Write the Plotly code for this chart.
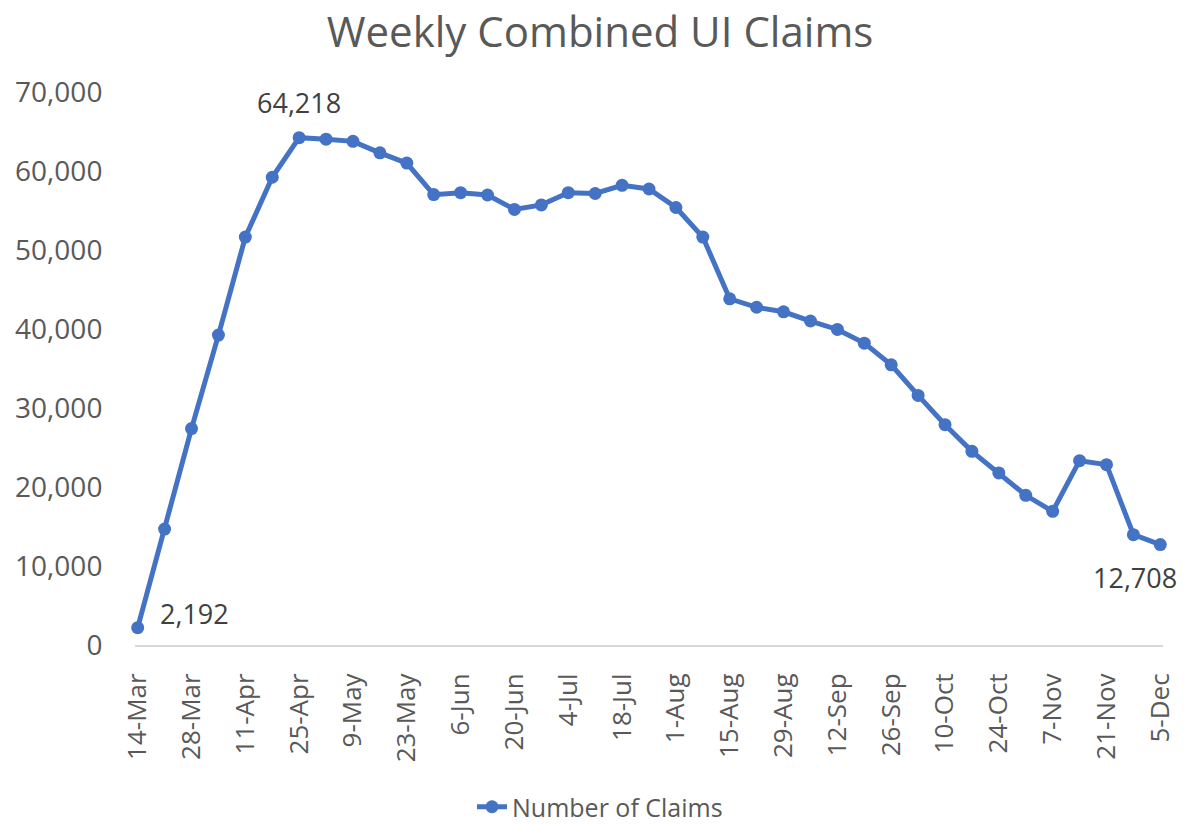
import plotly.graph_objects as go

weeks = ["14-Mar", "21-Mar", "28-Mar", "4-Apr", "11-Apr", "18-Apr", "25-Apr", "2-May",
         "9-May", "16-May", "23-May", "30-May", "6-Jun", "13-Jun", "20-Jun", "27-Jun",
         "4-Jul", "11-Jul", "18-Jul", "25-Jul", "1-Aug", "8-Aug", "15-Aug", "22-Aug",
         "29-Aug", "5-Sep", "12-Sep", "19-Sep", "26-Sep", "3-Oct", "10-Oct", "17-Oct",
         "24-Oct", "31-Oct", "7-Nov", "14-Nov", "21-Nov", "28-Nov", "5-Dec"]
claims = [2192, 14670, 27390, 39230, 51640, 59210, 64218, 64030,
          63750, 62300, 61000, 57010, 57250, 56960, 55140, 55710,
          57250, 57150, 58190, 57720, 55380, 51640, 43820, 42750,
          42180, 41010, 39940, 38210, 35470, 31590, 27890, 24510,
          21780, 18950, 16920, 23330, 22830, 13970, 12708]
tick_labels = weeks[::2]
series_name = "Number of Claims"
title_text = "Weekly Combined UI Claims"
labelled = {0: (57, 14), 6: (0, 35), 38: (-25, -33)}

FONT = "Open Sans"
BLUE = "#4472C4"
GREY = "#595959"
OFF = 8  # page body margin offset

fig = go.Figure()
fig.add_trace(go.Scatter(
    x=weeks, y=claims, mode="lines+markers", name=series_name,
    line=dict(color=BLUE, width=5),
    marker=dict(color=BLUE, size=13),
    cliponaxis=False,
))

for idx, (dx, dy) in labelled.items():
    fig.add_annotation(
        x=weeks[idx], y=claims[idx], text=f"{claims[idx]:,}",
        showarrow=False, xshift=dx, yshift=dy,
        font=dict(family=FONT, size=27, color="#404040"),
    )

fig.update_layout(
    width=1201, height=825,
    margin=dict(l=135 - OFF, r=38 + OFF, t=92 - OFF, b=180 + OFF, autoexpand=False),
    paper_bgcolor="white", plot_bgcolor="white",
    font=dict(family=FONT, color=GREY),
    title=dict(text=title_text, x=(600 - OFF) / 1201, xref="container", xanchor="center",
               y=1 - (32 - OFF) / 825, yref="container", yanchor="middle",
               font=dict(family=FONT, size=42, color=GREY)),
    showlegend=True,
    legend=dict(orientation="h", x=(600 - OFF) / 1201, xref="container", xanchor="center",
                y=1 - (807 - OFF) / 825, yref="container", yanchor="middle",
                font=dict(family=FONT, size=25, color=GREY)),
    xaxis=dict(
        type="category", categoryorder="array", categoryarray=weeks,
        range=[-0.1, 38.1], automargin=False,
        tickmode="array", tickvals=tick_labels, ticktext=tick_labels,
        tickangle=-90, tickfont=dict(family=FONT, size=26, color=GREY),
        showgrid=False, showline=True, linecolor="#D9D9D9", linewidth=2,
        ticks="outside", ticklen=16, tickcolor="rgba(0,0,0,0)",
        zeroline=False,
    ),
    yaxis=dict(
        range=[0, 70000], tickvals=list(range(0, 70001, 10000)), automargin=False,
        tickformat=",", tickfont=dict(family=FONT, size=28, color=GREY),
        showgrid=False, zeroline=False, showline=False,
        ticks="outside", ticklen=26, tickcolor="rgba(0,0,0,0)",
    ),
)

fig.write_html("out.html")
